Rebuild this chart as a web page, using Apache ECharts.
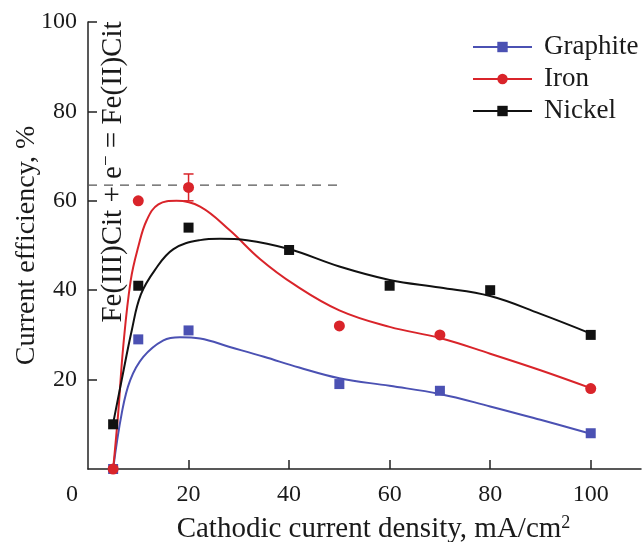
<!DOCTYPE html>
<html>
<head>
<meta charset="utf-8">
<script src="https://cdn.jsdelivr.net/npm/echarts@6/dist/echarts.min.js"></script>
<style>html,body{margin:0;padding:0;background:#fff;}#c{width:644px;height:542px;}</style>
</head>
<body>
<div id="c"></div>
<script>
// Measured points
const graphitePts = [[5,0],[10,29],[20,31],[50,19],[70,17.5],[100,8]];
const ironPts = [[5,0],[10,60],[20,63],[50,32],[70,30],[100,18]];
const nickelPts = [[5,10],[10,41],[20,54],[40,49],[60,41],[80,40],[100,30]];
// Error bar on iron at 20 mA/cm2: [x, low, high]
const ironError = [[20,60,66]];
// Fitted curves
const graphiteCurve = [[5,0],[6.7,12.4],[8.4,19.9],[11,25.1],[15,28.8],[18.3,29.5],[22.3,29.2],[28.2,27.3],[35,25.1],[42,22.7],[50,20.3],[60,18.6],[70,16.8],[80,14.0],[90,11.0],[100,7.9]];
const ironCurve = [[5,0],[6,12.4],[7,27.3],[8.5,42.2],[10,49.7],[11.7,55.7],[14,59.2],[17.6,60],[22.3,58.7],[28.2,53.4],[34.2,47],[41,41.3],[50,35.5],[60,31.8],[70,29.3],[80,25.8],[90,22.1],[100,18.1]];
const nickelCurve = [[5,10.2],[6.7,19.9],[8.7,31],[10.5,39],[13.3,44.5],[17,49.2],[22.3,51.2],[26.2,51.5],[31.6,51.2],[40,49.2],[50,45.3],[60,42.3],[70,40.6],[80,38.7],[90,34.7],[100,30.3]];
// Theoretical reference level (dashed)
const refLine = [[0,63.5],[50.5,63.5]];
const xTicks = [0,20,40,60,80,100];
const yTicks = [20,40,60,80,100];
const seriesNames = ['Graphite','Iron','Nickel'];

const FONT = 'Liberation Serif';
const TXT = '#1a1a1a';
const C_BLUE = '#4b51b3', C_RED = '#d9242a', C_BLACK = '#111111';

const chart = echarts.init(document.getElementById('c'), null, {renderer:'canvas'});
chart.setOption({
  animation: false,
  backgroundColor: '#fff',
  grid: {left: 88, right: 3, top: 22, bottom: 73, containLabel: false, outerBoundsMode: 'none'},
  legend: {
    data: seriesNames,
    orient: 'vertical',
    left: 467, top: 28,
    itemWidth: 59, itemHeight: 13, itemGap: 4,
    textStyle: {fontFamily: FONT, fontSize: 27, lineHeight: 28, color: TXT, padding: [0,0,0,7]}
  },
  xAxis: {
    type: 'value', min: 0, max: 110, interval: 20,
    splitLine: {show: false},
    axisLine: {lineStyle: {color: '#222', width: 1.5}},
    axisTick: {inside: true, length: 9, lineStyle: {color: '#222', width: 1.5}, customValues: [20,40,60,80,100]},
    axisLabel: {
      customValues: xTicks, margin: 14,
      fontFamily: FONT, fontSize: 24, color: TXT,
      formatter: v => v === 0 ? '{z|0}' : String(v),
      rich: {z: {fontFamily: FONT, fontSize: 24, color: TXT, padding: [0,32,0,0]}}
    },
    name: 'Cathodic current density, mA/cm{s|2}',
    nameLocation: 'middle', nameGap: 45, nameMoveOverlap: false,
    nameTextStyle: {fontFamily: FONT, fontSize: 29, color: TXT, lineHeight: 30, padding: [0,0,0,18],
      rich: {s: {fontFamily: FONT, fontSize: 18, lineHeight: 18, verticalAlign: 'top', color: TXT}}}
  },
  yAxis: {
    type: 'value', min: 0, max: 100, interval: 20,
    splitLine: {show: false},
    axisLine: {lineStyle: {color: '#222', width: 1.5}},
    axisTick: {inside: true, length: 9, lineStyle: {color: '#222', width: 1.5}, customValues: yTicks},
    axisLabel: {customValues: yTicks, margin: 11, fontFamily: FONT, fontSize: 24, color: TXT},
    name: 'Current efficiency, %',
    nameLocation: 'middle', nameGap: 47, nameRotate: 90, nameMoveOverlap: false,
    nameTextStyle: {fontFamily: FONT, fontSize: 28, lineHeight: 28, color: TXT}
  },
  graphic: [{
    type: 'text', x: 113, y: 172, rotation: Math.PI/2, z: 100,
    style: {
      text: '{a|Fe(III)Cit + e}{s|−}{a| = Fe(II)Cit}',
      align: 'center', verticalAlign: 'middle',
      rich: {
        a: {fontFamily: FONT, fontSize: 29, lineHeight: 30, fill: TXT},
        s: {fontFamily: FONT, fontSize: 19, lineHeight: 19, verticalAlign: 'top', fill: TXT}
      }
    }
  }],
  series: [
    {type: 'line', name: 'ref', data: refLine, symbol: 'none', silent: true, z: 1,
     lineStyle: {color: '#555', width: 1.2, type: [9,7]}},
    {type: 'line', name: 'Graphite', data: graphiteCurve, smooth: 0.4, showSymbol: false,
     symbol: 'rect', symbolSize: 10, itemStyle: {color: C_BLUE}, lineStyle: {color: C_BLUE, width: 2}, z: 2},
    {type: 'line', name: 'Iron', data: ironCurve, smooth: 0.4, showSymbol: false,
     symbol: 'circle', symbolSize: 11, itemStyle: {color: C_RED}, lineStyle: {color: C_RED, width: 2}, z: 2},
    {type: 'line', name: 'Nickel', data: nickelCurve, smooth: 0.4, showSymbol: false,
     symbol: 'rect', symbolSize: 10, itemStyle: {color: C_BLACK}, lineStyle: {color: C_BLACK, width: 2}, z: 2},
    {type: 'custom', name: 'Iron error', data: ironError, z: 3,
     renderItem: function(params, api) {
       const x = api.value(0);
       const lo = api.coord([x, api.value(1)]);
       const hi = api.coord([x, api.value(2)]);
       const w = 5;
       const st = {stroke: C_RED, lineWidth: 1.5};
       return {type: 'group', children: [
         {type: 'line', shape: {x1: lo[0], y1: lo[1], x2: hi[0], y2: hi[1]}, style: st},
         {type: 'line', shape: {x1: hi[0]-w, y1: hi[1], x2: hi[0]+w, y2: hi[1]}, style: st},
         {type: 'line', shape: {x1: lo[0]-w, y1: lo[1], x2: lo[0]+w, y2: lo[1]}, style: st}
       ]};
     }},
    {type: 'scatter', name: 'Graphite pts', data: graphitePts, symbol: 'rect', symbolSize: 10,
     itemStyle: {color: C_BLUE, opacity: 1}, z: 4},
    {type: 'scatter', name: 'Nickel pts', data: nickelPts, symbol: 'rect', symbolSize: 10,
     itemStyle: {color: C_BLACK, opacity: 1}, z: 4},
    {type: 'scatter', name: 'Iron pts', data: ironPts, symbol: 'circle', symbolSize: 11,
     itemStyle: {color: C_RED, opacity: 1}, z: 5}
  ]
});
</script>
</body>
</html>
